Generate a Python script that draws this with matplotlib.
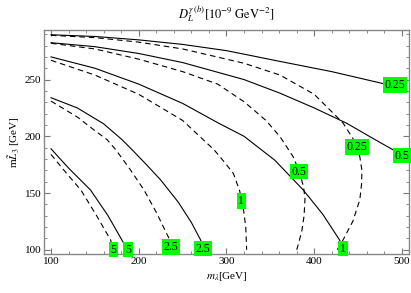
import matplotlib.pyplot as plt
from matplotlib.ticker import MultipleLocator

plt.rcParams['font.family'] = ['Liberation Serif', 'DejaVu Serif']
plt.rcParams['mathtext.fontset'] = 'stix'

# contour lines: (m_lambda, m_L3) pairs
solid = {
    '0.25': ([100, 150, 200, 250, 300, 320, 361, 420, 481],
             [289.5, 288, 285, 281, 275.5, 272.4, 266, 257, 246]),
    '0.5': ([100, 150, 200, 250, 320, 361, 400, 437, 465, 490],
            [282.5, 279, 273, 265, 250, 238, 225, 211.5, 199, 188]),
    '1': ([100, 150, 200, 250, 290, 320, 355, 387.5, 410, 429, 433],
          [270, 260, 246, 229, 212, 200, 179, 152.7, 131, 108.5, 100]),
    '2.5': ([100, 130, 160, 181, 192.6, 210, 225, 245, 260, 270.6, 273],
            [234, 225, 211, 197, 188, 174, 161.5, 142, 124, 108.5, 100]),
    '5': ([100, 120, 145, 165, 183, 186], [189, 172, 152.7, 130, 105.6, 100]),
}
dashed = {
    '0.25': ([100, 150, 200, 250, 320, 361, 400, 432.8, 445, 452, 454.4, 454, 452, 444, 432.8, 426],
             [289, 287, 283, 277, 264.4, 254, 237, 211.8, 197, 182, 170, 158, 144, 125, 108.5, 99.7]),
    '0.5': ([100, 150, 200, 250, 290, 320, 345, 361, 376, 383, 388, 389.5, 388.5, 386, 382, 380],
            [282, 277, 268, 257, 246, 230.5, 214, 199.7, 182, 169, 155, 145, 130, 117, 105, 99.7]),
    '1': ([100, 150, 200, 250, 286, 300, 308, 315, 319, 322, 323],
          [267, 254, 237, 214, 188, 175, 167, 152, 138, 120, 100]),
    '2.5': ([100, 130, 150, 164, 174, 190, 206, 220, 234.5, 237],
            [231, 217, 205, 197, 188, 171, 152.7, 133, 110, 100]),
    '5': ([100, 117, 134, 152, 168, 171], [184, 168, 152.7, 130, 108.5, 100]),
}
solid_labels = {'0.25': (492, 245), '0.5': (500, 183), '1': (433, 101),
                '2.5': (273, 101), '5': (188, 100)}
dashed_labels = {'0.25': (449, 190.5), '0.5': (382.6, 168.8), '1': (317, 143),
                 '2.5': (236.4, 102.6), '5': (171, 100)}

fig = plt.figure(figsize=(4.11, 2.93), dpi=100)
ax = fig.add_axes([0.107, 0.133, 0.888, 0.765])

for k, (xs, ys) in solid.items():
    ax.plot(xs, ys, color='black', lw=0.8)
for k, (xs, ys) in dashed.items():
    ax.plot(xs, ys, color='black', lw=0.8, dashes=(5, 3.5))

box = dict(boxstyle='square,pad=0.15', fc='#00ff00', ec='none')
for lab, (x, y) in list(solid_labels.items()) + list(dashed_labels.items()):
    ax.text(x, y, lab, fontsize=8.5, ha='center', va='center', bbox=box)

ax.set_xlim(92, 508)
ax.set_ylim(96.2, 293.8)
ax.xaxis.set_major_locator(MultipleLocator(100))
ax.xaxis.set_minor_locator(MultipleLocator(20))
ax.yaxis.set_major_locator(MultipleLocator(50))
ax.yaxis.set_minor_locator(MultipleLocator(10))
ax.tick_params(which='both', direction='in', top=True, right=True,
               color='#777777', labelsize=8, pad=2)
ax.tick_params(which='major', length=4)
ax.tick_params(which='minor', length=2)
for s in ax.spines.values():
    s.set_color('#888888')
    s.set_linewidth(1)

ax.set_title(r'$D_L^{\gamma\,(b)}[10^{-9}\ \mathrm{GeV}^{-2}]$', fontsize=9, pad=8)
ax.set_xlabel(r'$m_\lambda$[GeV]', fontsize=8, labelpad=3)
ax.set_ylabel(r'm$\tilde{L}_3$ [GeV]', fontsize=8, labelpad=2)

fig.savefig('out.png', dpi=100)
